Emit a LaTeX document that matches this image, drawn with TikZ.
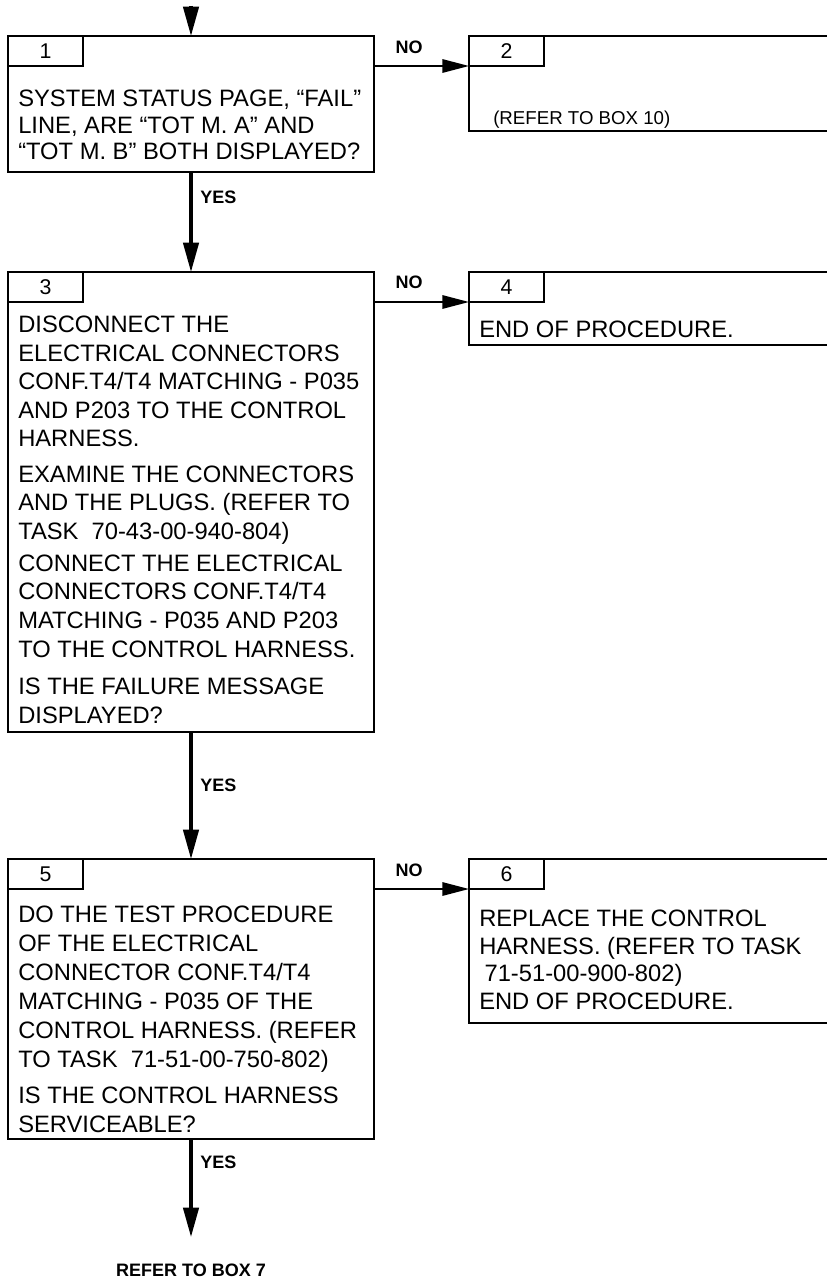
\documentclass[tikz,border=0pt]{standalone}
\usepackage{fontspec}
\setmainfont{Liberation Sans}
\usetikzlibrary{arrows.meta}

\begin{document}
\begin{tikzpicture}[x=0.75pt,y=-0.75pt,
  box/.style={draw,line width=1.5pt,anchor=north west,inner sep=0pt,outer sep=0pt,minimum width=274.5pt},
  tab/.style={draw,line width=1.5pt,anchor=north west,inner sep=0pt,outer sep=0pt,
    minimum width=56.25pt,minimum height=22.5pt,font=\fontsize{16}{16}\selectfont},
  txt/.style={anchor=base west,align=left,inner sep=0pt,font=\fontsize{17.8}{21.45}\selectfont},
  lbl/.style={inner sep=0pt,font=\fontsize{13.5}{13.5}\selectfont\bfseries},
  flow/.style={line width=2.5pt,-{Triangle[length=22pt,width=11.5pt]}},
  noflow/.style={line width=1.5pt,-{Triangle[length=20pt,width=10pt]}}]
  \useasboundingbox (0,0) rectangle (827,1280);

  % question boxes (left column), texts placed by their last baseline
  \node[box,minimum height=102pt] (b1) at (8,36) {};
  \node[tab] (t1) at (b1.north west) {1};
  \node[txt,font=\fontsize{17.8}{20}\selectfont] (x1) at (18,160)
    {SYSTEM STATUS PAGE, “FAIL”\\LINE, ARE “TOT M. A” AND\\“TOT M. B” BOTH DISPLAYED?};

  \node[box,minimum height=345pt] (b3) at (8,272) {};
  \node[tab] (t3) at (b3.north west) {3};
  \node[txt] (x3) at (18,723)
    {DISCONNECT THE\\ELECTRICAL CONNECTORS\\CONF.T4/T4 MATCHING - P035\\AND P203 TO THE CONTROL\\HARNESS.\\[5pt]
     EXAMINE THE CONNECTORS\\AND THE PLUGS. (REFER TO\\TASK\ \ 70-43-00-940-804)\\[2.5pt]
     CONNECT THE ELECTRICAL\\CONNECTORS CONF.T4/T4\\MATCHING - P035 AND P203\\TO THE CONTROL HARNESS.\\[6.5pt]
     IS THE FAILURE MESSAGE\\DISPLAYED?};

  \node[box,minimum height=210pt] (b5) at (8,859) {};
  \node[tab] (t5) at (b5.north west) {5};
  \node[txt,font=\fontsize{17.8}{21.75}\selectfont] (x5) at (18,1132)
    {DO THE TEST PROCEDURE\\OF THE ELECTRICAL\\CONNECTOR CONF.T4/T4\\MATCHING - P035 OF THE\\CONTROL HARNESS. (REFER\\TO TASK\ \ 71-51-00-750-802)\\[5.25pt]
     IS THE CONTROL HARNESS\\SERVICEABLE?};

  % result boxes (right column)
  \node[box,minimum height=71.25pt] (b2) at (469,36) {};
  \node[tab] (t2) at (b2.north west) {2};
  \node[txt,font=\fontsize{14}{16}\selectfont] (x2) at (493,125) {(REFER TO BOX 10)};

  \node[box,minimum height=54.75pt] (b4) at (469,272) {};
  \node[tab] (t4) at (b4.north west) {4};
  \node[txt] (x4) at (479,337) {END OF PROCEDURE.};

  \node[box,minimum height=123pt] (b6) at (469,859) {};
  \node[tab] (t6) at (b6.north west) {6};
  \node[txt,font=\fontsize{17.8}{20.6}\selectfont] (x6) at (479,1009)
    {REPLACE THE CONTROL\\HARNESS. (REFER TO TASK\\\hspace{4pt}71-51-00-900-802)\\END OF PROCEDURE.};

  % connectors
  \coordinate (start) at (191,6);
  \coordinate (end) at (191,1237);
  \draw[flow] (start) -- (b1.north);
  \draw[flow] (b1.south) -- (b3.north);
  \draw[flow] (b3.south) -- (b5.north);
  \draw[flow] (b5.south) -- (end);
  \draw[noflow] (t1.south -| b1.east) -- (t2.south west);
  \draw[noflow] (t3.south -| b3.east) -- (t4.south west);
  \draw[noflow] (t5.south -| b5.east) -- (t6.south west);

  \node[lbl] (no1) at (409,47) {NO};
  \node[lbl] (no3) at (409,282) {NO};
  \node[lbl] (no5) at (409,870) {NO};
  \node[lbl,anchor=west] (yes1) at (200,197) {YES};
  \node[lbl,anchor=west] (yes3) at (200,785) {YES};
  \node[lbl,anchor=west] (yes5) at (200,1162) {YES};
  \node[lbl] (ref7) at (191,1270) {REFER TO BOX 7};
\end{tikzpicture}
\end{document}
